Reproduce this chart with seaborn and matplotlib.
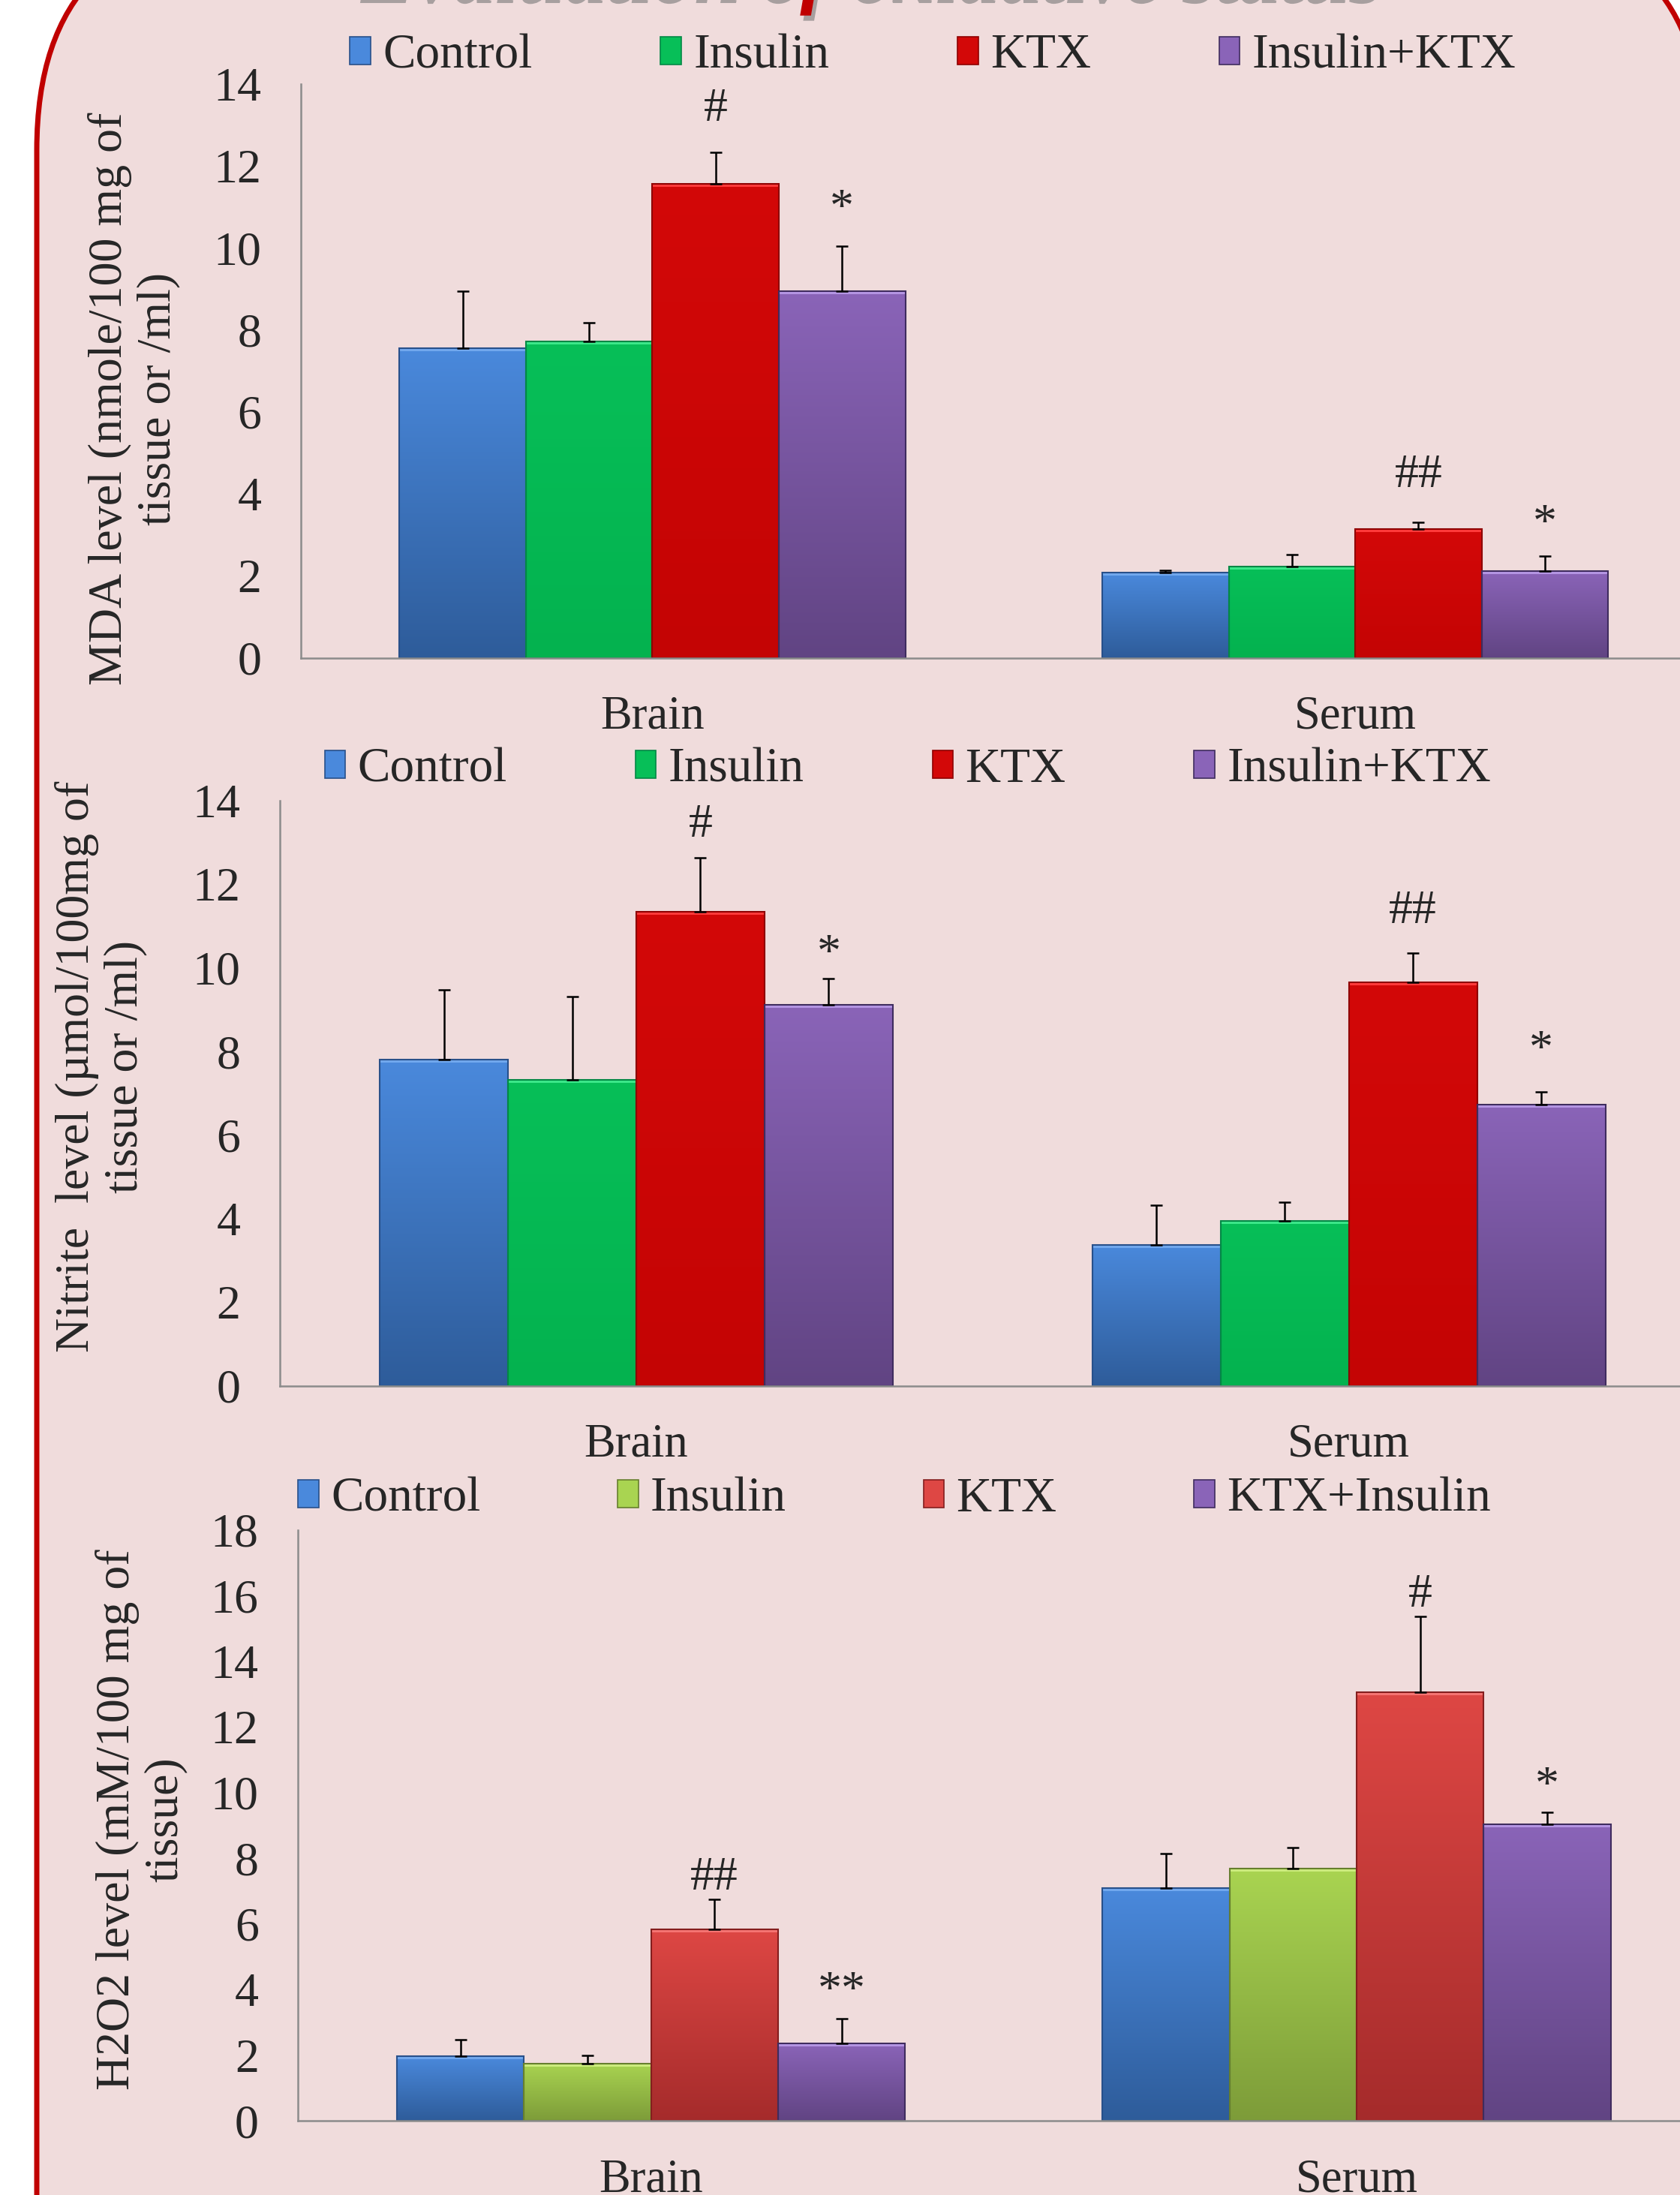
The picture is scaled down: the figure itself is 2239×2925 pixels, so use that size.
import numpy as np
import pandas as pd
import matplotlib
matplotlib.use("Agg")
import matplotlib.pyplot as plt
import seaborn as sns
import matplotlib.patheffects as pe
from matplotlib.patches import FancyBboxPatch, Patch
from matplotlib.colors import LinearSegmentedColormap

# Data
tissues = ["Brain", "Serum"]
groups_top = ["Control", "Insulin", "KTX", "Insulin+KTX"]
groups_h2o2 = ["Control", "Insulin", "KTX", "KTX+Insulin"]

# rows = tissue (Brain, Serum), columns = group
mda_mean = [[7.55, 7.72, 11.57, 8.95], [2.08, 2.22, 3.14, 2.12]]
mda_err = [[1.40, 0.45, 0.76, 1.10], [0.05, 0.30, 0.17, 0.37]]
mda_marks = [("Brain", 2, "#", 13.38), ("Brain", 3, "*", 11.1),
             ("Serum", 2, "##", 4.44), ("Serum", 3, "*", 3.41)]

nitrite_mean = [[7.80, 7.33, 11.35, 9.11], [3.38, 3.95, 9.65, 6.73]]
nitrite_err = [[1.68, 1.98, 1.28, 0.64], [0.94, 0.44, 0.70, 0.30]]
nitrite_marks = [("Brain", 2, "#", 13.4), ("Brain", 3, "*", 10.48),
                 ("Serum", 2, "##", 11.35), ("Serum", 3, "*", 8.17)]

h2o2_mean = [[1.96, 1.75, 5.84, 2.35], [7.08, 7.68, 13.05, 9.04]]
h2o2_err = [[0.51, 0.25, 0.90, 0.76], [1.07, 0.64, 2.31, 0.35]]
h2o2_marks = [("Brain", 2, "##", 7.38), ("Brain", 3, "**", 4.14),
              ("Serum", 2, "#", 16.0), ("Serum", 3, "*", 10.37)]

# (top, bottom, edge, highlight) colours of each bar series
blue = ("#4A89DC", "#2E5C9A", "#28508A", "#72A8EE")
green = ("#07BF58", "#04B24F", "#038845", "#3CE88A")
red = ("#D30808", "#C40404", "#8E0000", "#FF3B3B")
purple = ("#8A64B8", "#614483", "#3F2C5E", "#B596E4")
lime = ("#A9D451", "#7D9C39", "#667F2E", "#CDEC7E")
red2 = ("#DE4744", "#A52B2B", "#841E1E", "#F57573")

sns.set_style("white")
plt.rcParams["font.family"] = ["Liberation Serif", "DejaVu Serif"]

W, H = 2239, 2925
fig = plt.figure(figsize=(W / 100, H / 100), dpi=100)
fig.patch.set_facecolor("white")

# pink rounded panel behind everything
ax_bg = fig.add_axes([0, 0, 1, 1], zorder=-10)
ax_bg.set_xlim(0, W)
ax_bg.set_ylim(H, 0)
ax_bg.axis("off")
ax_bg.add_patch(FancyBboxPatch((49, -107), 2222, 3400,
                               boxstyle="round,pad=0,rounding_size=307",
                               fc="#F0DCDC", ec="#C00000", lw=5))

fig.text(0.517, 1.001, "Evaluation of oxidative status", ha="center", va="baseline",
         fontsize=80, style="italic", weight="bold", color="#C00000",
         path_effects=[pe.withSimplePatchShadow(offset=(3, -5), shadow_rgbFace="#777777", alpha=0.6)])

grad = np.linspace(0, 1, 256).reshape(-1, 1)
gray = "#8C8C8C"


def draw_panel(rect, means, errs, groups, pal, ymax, marks, ylabel, ylab_xy, leg_xy, colspace):
    ax = fig.add_axes(rect)
    ax.set_facecolor("none")
    rows = []
    for ti, t in enumerate(tissues):
        for gi, g in enumerate(groups):
            rows.append({"tissue": t, "group": g, "value": means[ti][gi]})
    df = pd.DataFrame(rows)

    sns.barplot(data=df, x="tissue", y="value", hue="group", order=tissues, hue_order=groups,
                palette=[c[0] for c in pal], width=0.72, errorbar=None, saturation=1,
                legend=False, ax=ax)
    bars = list(ax.containers)

    for gi, cont in enumerate(bars):
        top, bottom, edge, light = pal[gi]
        cmap = LinearSegmentedColormap.from_list("g%d" % gi, [top, bottom])
        for ti, bar in enumerate(cont):
            x0, w, h = bar.get_x(), bar.get_width(), bar.get_height()
            bar.set_facecolor("none")
            bar.set_edgecolor(edge)
            bar.set_linewidth(1.5)
            bar.set_zorder(2)
            im = ax.imshow(grad, extent=(x0, x0 + w, 0, h), origin="upper", aspect="auto",
                           cmap=cmap, interpolation="bicubic", zorder=1.5)
            im.set_clip_path(bar)
            # light bevel along the top of the bar
            hl, = ax.plot([x0, x0 + w], [h, h], color=light, lw=5, zorder=1.8,
                          solid_capstyle="butt")
            hl.set_clip_path(bar)
            ax.errorbar(x0 + w / 2, h, yerr=[[0], [errs[ti][gi]]], fmt="none", ecolor="black",
                        elinewidth=1.8, capsize=6, capthick=1.8, zorder=3)

    for t, gi, lab, y in marks:
        bar = bars[gi][tissues.index(t)]
        dy = -7 if "*" in lab else 0
        ax.annotate(lab, (bar.get_x() + bar.get_width() / 2, y), xytext=(0, dy),
                    textcoords="offset points", ha="center", va="center", fontsize=46)

    ax.set_xlim(-0.5, 1.5)
    ax.set_ylim(0, ymax)
    ax.set_yticks(range(0, ymax + 1, 2))
    ax.set_xticks([0, 1])
    ax.set_xticklabels(tissues)
    ax.set_xticks([-0.5, 0.5, 1.5], minor=True)
    ax.set_xlabel("")
    ax.set_ylabel("")
    ax.tick_params(axis="x", which="major", length=0, pad=36, labelsize=45)
    ax.tick_params(axis="x", which="minor", length=14, width=1.5, color=gray, direction="out")
    ax.tick_params(axis="y", length=14, width=1.5, color=gray, direction="out", pad=24, labelsize=46)
    for s in ["top", "right"]:
        ax.spines[s].set_visible(False)
    for s in ["left", "bottom"]:
        ax.spines[s].set_color(gray)
        ax.spines[s].set_linewidth(1.8)

    fig.text(ylab_xy[0], ylab_xy[1], ylabel, rotation=90, ha="center", va="center",
             multialignment="center", fontsize=46, linespacing=1.15)

    handles = [Patch(facecolor=c[0], edgecolor=c[2], linewidth=1.2) for c in pal]
    ax.legend(handles, groups, loc="center left", bbox_to_anchor=leg_xy,
              bbox_transform=fig.transFigure, ncol=4, frameon=False, fontsize=47,
              handlelength=0.42, handleheight=0.5, handletextpad=0.25,
              columnspacing=colspace, borderpad=0, borderaxespad=0)
    return ax


draw_panel([215 / 1200, 1 - 470 / 1568, 1004 / 1200, 410 / 1568],
           mda_mean, mda_err, groups_top, [blue, green, red, purple], 14, mda_marks,
           "MDA level (nmole/100 mg of\ntissue or /ml)", (96 / 1200, 1 - 285 / 1568),
           (250 / 1200, 1 - 40 / 1568), 2.62)

draw_panel([200 / 1200, 1 - 990 / 1568, 1018 / 1200, 418 / 1568],
           nitrite_mean, nitrite_err, groups_top, [blue, green, red, purple], 14, nitrite_marks,
           "Nitrite  level (\u00b5mol/100mg of\ntissue or /ml)", (72 / 1200, 1 - 762 / 1568),
           (232 / 1200, 1 - 550 / 1568), 2.62)

draw_panel([213 / 1200, 1 - 1515 / 1568, 1008 / 1200, 422 / 1568],
           h2o2_mean, h2o2_err, groups_h2o2, [blue, lime, red2, purple], 18, h2o2_marks,
           "H2O2 level (mM/100 mg of\ntissue)", (101 / 1200, 1 - 1300 / 1568),
           (213 / 1200, 1 - 1071 / 1568), 2.8)

fig.savefig("out.png", dpi=100)
